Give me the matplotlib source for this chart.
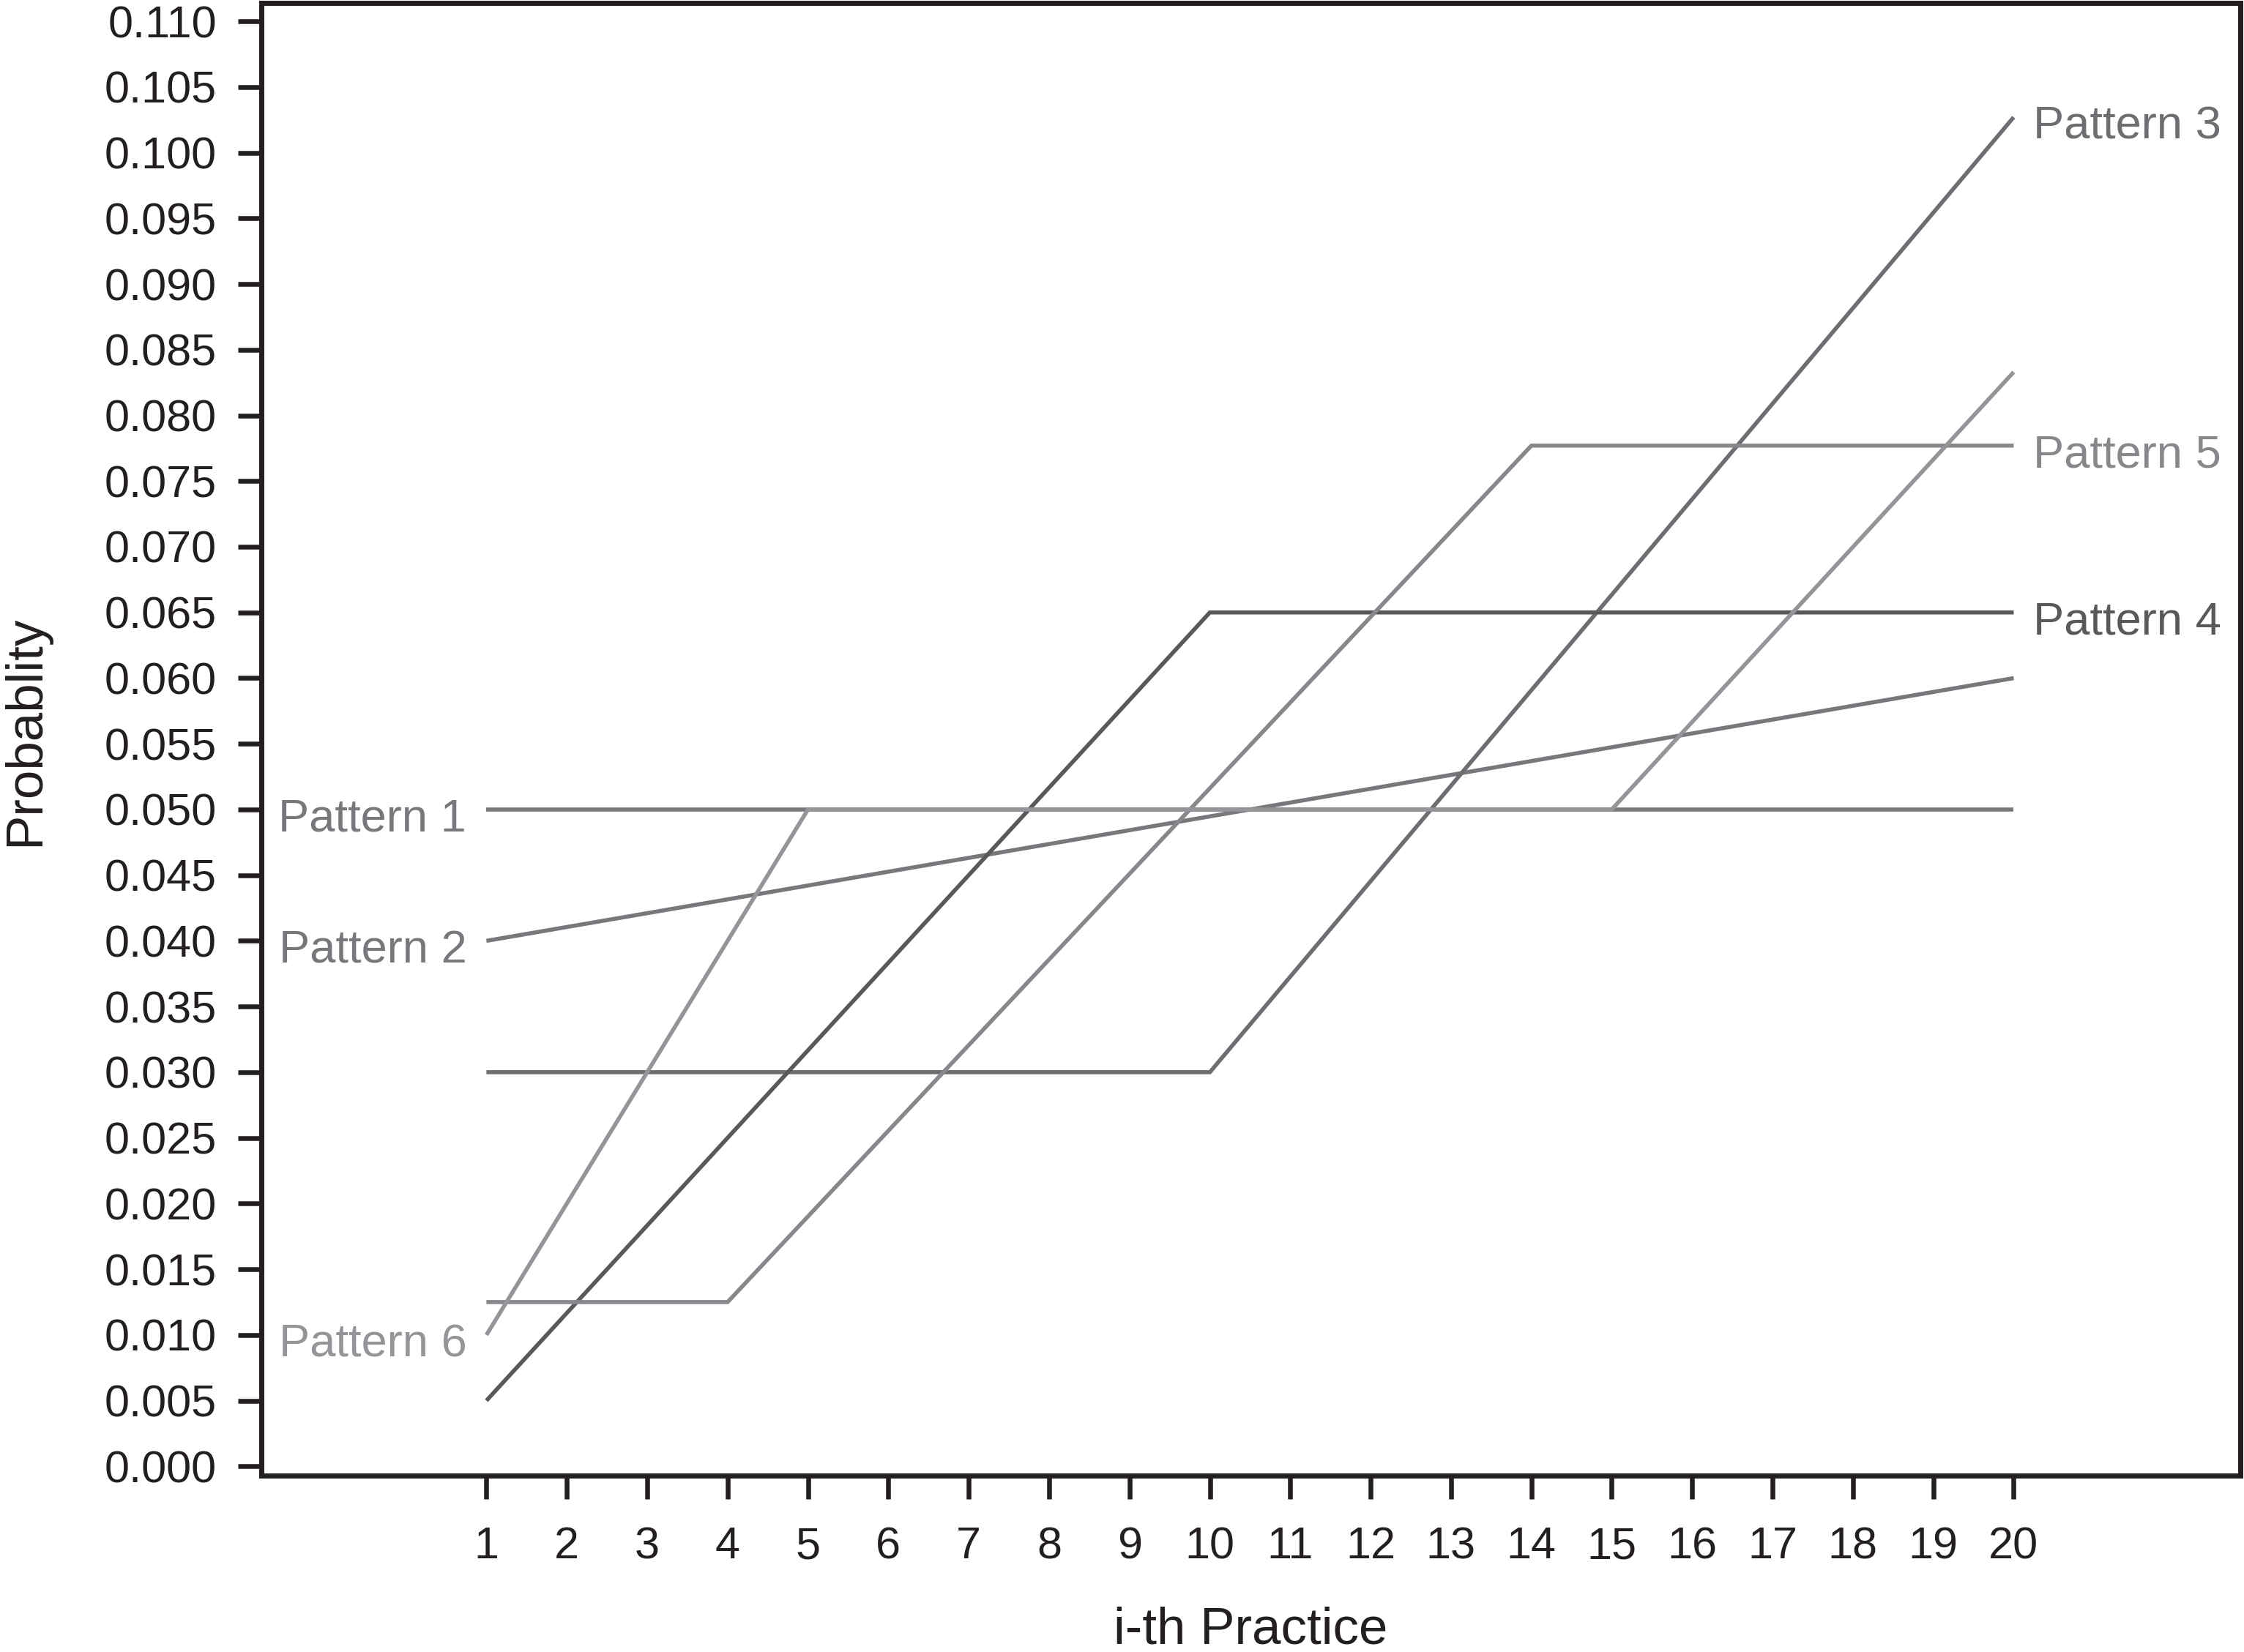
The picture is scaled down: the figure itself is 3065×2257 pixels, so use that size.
import matplotlib
matplotlib.use("Agg")
import matplotlib.pyplot as plt

plt.rcParams['font.family'] = ['Liberation Sans', 'DejaVu Sans']

# ---- data (breakpoints) ----
p1_x = [1, 20]
p1_y = [0.050, 0.050]
p2_x = [1, 20]
p2_y = [0.040, 0.060]
p3_x = [1, 10, 20]
p3_y = [0.030, 0.030, 0.1027]
p4_x = [1, 10, 20]
p4_y = [0.005, 0.065, 0.065]
p5_x = [1, 4, 14, 20]
p5_y = [0.0125, 0.0125, 0.0777, 0.0777]
p6_x = [1, 5, 15, 20]
p6_y = [0.010, 0.050, 0.050, 0.0833]

x_ticks = list(range(1, 21))
y_ticks = [i * 0.005 for i in range(23)]
y_tick_labels = [f"{v:.3f}" for v in y_ticks]

labels = ["Pattern 1", "Pattern 2", "Pattern 3", "Pattern 4", "Pattern 5", "Pattern 6"]
colors = ["#77787b", "#77787b", "#6d6e71", "#58595b", "#87888b", "#939598"]
series = [(p1_x, p1_y), (p2_x, p2_y), (p3_x, p3_y), (p4_x, p4_y), (p5_x, p5_y), (p6_x, p6_y)]
label_side = ["left", "left", "right", "right", "right", "left"]

axis_color = "#231f20"

fig = plt.figure(figsize=(30.65, 22.57), dpi=100)
ax = fig.add_axes([357 / 3065, 1 - 2016 / 2257, (3060 - 357) / 3065, (2016 - 4) / 2257])

for (xs, ys), c in zip(series, colors):
    ax.plot(xs, ys, color=c, lw=4.0, solid_capstyle='butt', solid_joinstyle='miter')

for (xs, ys), c, lab, side in zip(series, colors, labels, label_side):
    if side == "left":
        ax.annotate(lab, xy=(xs[0], ys[0]), xytext=(-19.5, -21.5), textcoords='offset points',
                    ha='right', va='baseline', fontsize=45.5, color=c)
    else:
        ax.annotate(lab, xy=(xs[-1], ys[-1]), xytext=(19, -21.5), textcoords='offset points',
                    ha='left', va='baseline', fontsize=45.5, color=c)

ax.set_xlim(-1.8, 22.82)
ax.set_ylim(-0.00071, 0.1114)
ax.set_xticks(x_ticks)
ax.set_xticklabels([str(v) for v in x_ticks])
ax.set_yticks(y_ticks)
ax.set_yticklabels(y_tick_labels)

for s in ax.spines.values():
    s.set_linewidth(5.0)
    s.set_color(axis_color)

ax.tick_params(axis='both', direction='out', length=23, width=4.7, color=axis_color,
               labelsize=44, labelcolor=axis_color)
ax.tick_params(axis='y', pad=21)
ax.tick_params(axis='x', pad=27)

fig.text((357 + 3060) / 2 / 3065, 1 - 2246 / 2257, "i-th Practice", ha='center', va='baseline',
         fontsize=51, color=axis_color)
fig.text(35 / 3065, 1 - 998 / 2257, "Probablity", ha='center', va='center', rotation=90,
         fontsize=51, color=axis_color)

fig.savefig("out.png", dpi=100)
